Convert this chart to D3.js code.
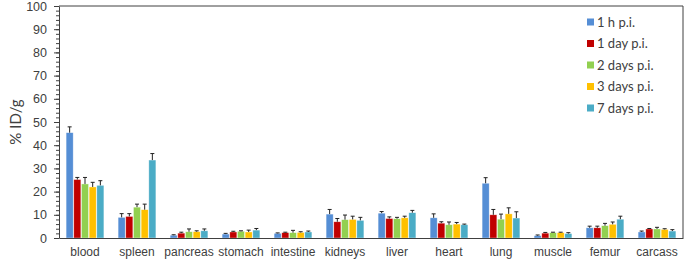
<!DOCTYPE html>
<html>
<head>
<meta charset="utf-8">
<script src="https://cdn.jsdelivr.net/npm/d3@7"></script>
<style>
  body { margin: 0; background: #fff; }
  svg { display: block; font-family: Lato, "Open Sans", sans-serif; }
</style>
</head>
<body>
<div id="chart"></div>
<script>
// Biodistribution grouped bar chart (% ID/g per organ, 5 time points)

const organs = ["blood", "spleen", "pancreas", "stomach", "intestine", "kidneys",
  "liver", "heart", "lung", "muscle", "femur", "carcass"];

const timepoints = ["1 h p.i.", "1 day p.i.", "2 days p.i.", "3 days p.i.", "7 days p.i."];
const colors = ["#558ED5", "#C00000", "#92D050", "#FFC000", "#4BACC6"];

// mean values per time point, one entry per organ
const h1   = [45.4, 8.9, 1.2, 1.7, 2.0, 10.3, 10.7, 8.7, 23.6, 1.0, 4.4, 2.6];
const d1   = [25.2, 9.3, 2.1, 2.6, 2.3, 7.0, 8.4, 6.4, 10.0, 2.1, 4.4, 3.9];
const d2   = [23.3, 13.3, 2.7, 2.9, 2.3, 7.9, 8.3, 5.7, 8.1, 2.3, 5.3, 3.9];
const d3v  = [22.0, 12.2, 2.7, 2.6, 2.4, 8.0, 8.7, 6.0, 10.4, 2.3, 5.9, 3.7];
const d7   = [22.7, 33.6, 3.1, 3.4, 2.6, 7.6, 10.9, 5.7, 8.6, 1.9, 8.1, 3.0];

// standard deviations (upper whisker only)
const h1Err  = [2.5, 1.6, 0.2, 0.3, 0.2, 2.0, 0.7, 1.7, 2.4, 0.3, 0.7, 0.4];
const d1Err  = [0.9, 1.2, 0.4, 0.3, 0.2, 1.4, 0.7, 0.6, 2.3, 0.3, 0.7, 0.2];
const d2Err  = [2.8, 1.3, 1.2, 0.2, 1.0, 2.0, 0.6, 1.2, 2.2, 0.2, 1.0, 0.7];
const d3Err  = [2.0, 2.4, 0.4, 0.8, 0.3, 1.4, 0.7, 0.7, 2.6, 0.2, 1.0, 0.3];
const d7Err  = [2.0, 2.8, 0.8, 0.7, 0.4, 1.3, 1.0, 0.3, 2.7, 0.4, 1.3, 0.6];

const yTicks = [0, 10, 20, 30, 40, 50, 60, 70, 80, 90, 100];

const seriesValues = [h1, d1, d2, d3v, d7];
const seriesErrors = [h1Err, d1Err, d2Err, d3Err, d7Err];

const width = 685, height = 261;
const margin = { top: 6, right: 2, bottom: 23, left: 59 };

const svg = d3.select("#chart").append("svg")
  .attr("width", width)
  .attr("height", height);

const x = d3.scaleBand()
  .domain(organs)
  .range([margin.left, width - margin.right])
  .paddingInner(0.25)
  .paddingOuter(0.125);

const xSub = d3.scaleBand()
  .domain(d3.range(timepoints.length))
  .range([0, x.bandwidth()])
  .padding(0.08);

const y = d3.scaleLinear()
  .domain([0, 100])
  .range([height - margin.bottom, margin.top]);

// frame (top + right)
svg.append("path")
  .attr("d", `M${margin.left},${margin.top}H${width - margin.right}V${height - margin.bottom}`)
  .attr("fill", "none")
  .attr("stroke", "#404040")
  .attr("stroke-width", 1);

// bars
const groups = svg.selectAll(".organ")
  .data(organs)
  .join("g")
  .attr("class", "organ")
  .attr("transform", d => `translate(${x(d)},0)`);

groups.selectAll("rect")
  .data((o, i) => seriesValues.map((vals, s) => ({ s, v: vals[i], e: seriesErrors[s][i] })))
  .join("rect")
  .attr("x", d => xSub(d.s))
  .attr("y", d => y(d.v))
  .attr("width", xSub.bandwidth())
  .attr("height", d => y(0) - y(d.v))
  .attr("fill", d => colors[d.s])
  .attr("stroke", "#fff")
  .attr("stroke-opacity", 0.6)
  .attr("stroke-width", 0.6);

// error bars
const errs = groups.selectAll(".err")
  .data((o, i) => seriesValues.map((vals, s) => ({ s, v: vals[i], e: seriesErrors[s][i] })))
  .join("g")
  .attr("class", "err")
  .attr("stroke", "#222")
  .attr("stroke-width", 1);

errs.append("line")
  .attr("x1", d => xSub(d.s) + xSub.bandwidth() / 2)
  .attr("x2", d => xSub(d.s) + xSub.bandwidth() / 2)
  .attr("y1", d => y(d.v))
  .attr("y2", d => y(d.v + d.e));

errs.append("line")
  .attr("x1", d => xSub(d.s) + xSub.bandwidth() / 2 - 2)
  .attr("x2", d => xSub(d.s) + xSub.bandwidth() / 2 + 2)
  .attr("y1", d => y(d.v + d.e))
  .attr("y2", d => y(d.v + d.e));

// y axis, minor ticks every 2
svg.append("g")
  .attr("transform", `translate(${margin.left},0)`)
  .call(d3.axisLeft(y).tickValues(d3.range(0, 101, 2)).tickSize(3).tickFormat(""))
  .call(g => g.select(".domain").remove())
  .selectAll("line").attr("stroke", "#404040");

const yAxis = svg.append("g")
  .attr("transform", `translate(${margin.left},0)`)
  .call(d3.axisLeft(y).tickValues(yTicks).tickSize(5).tickPadding(7).tickSizeOuter(0));
yAxis.select(".domain").attr("stroke", "#404040");
yAxis.selectAll("line").attr("stroke", "#404040");
yAxis.selectAll("text")
  .attr("fill", "#404040")
  .style("font-size", "12.5px");

// x axis
const xAxis = svg.append("g")
  .attr("transform", `translate(0,${y(0)})`)
  .call(d3.axisBottom(x).tickSize(0).tickPadding(9).tickSizeOuter(0));
xAxis.select(".domain").attr("stroke", "#404040");
xAxis.selectAll("text")
  .attr("fill", "#404040")
  .style("font-size", "12px");

// y label
svg.append("text")
  .attr("transform", `translate(16,${(margin.top + y(0)) / 2}) rotate(-90)`)
  .attr("text-anchor", "middle")
  .attr("dy", "0.35em")
  .attr("fill", "#404040")
  .style("font-size", "15px")
  .text("% ID/g");

// legend
const legend = svg.append("g")
  .attr("transform", "translate(587,22)");

const items = legend.selectAll("g")
  .data(timepoints)
  .join("g")
  .attr("transform", (d, i) => `translate(0,${i * 21.5})`);

items.append("rect")
  .attr("x", 0)
  .attr("y", -3.5)
  .attr("width", 7)
  .attr("height", 7)
  .attr("fill", (d, i) => colors[i]);

items.append("text")
  .attr("x", 10)
  .attr("y", 0)
  .attr("dy", "0.35em")
  .attr("fill", "#404040")
  .style("font-size", "13px")
  .text(d => d);
</script>
</body>
</html>
